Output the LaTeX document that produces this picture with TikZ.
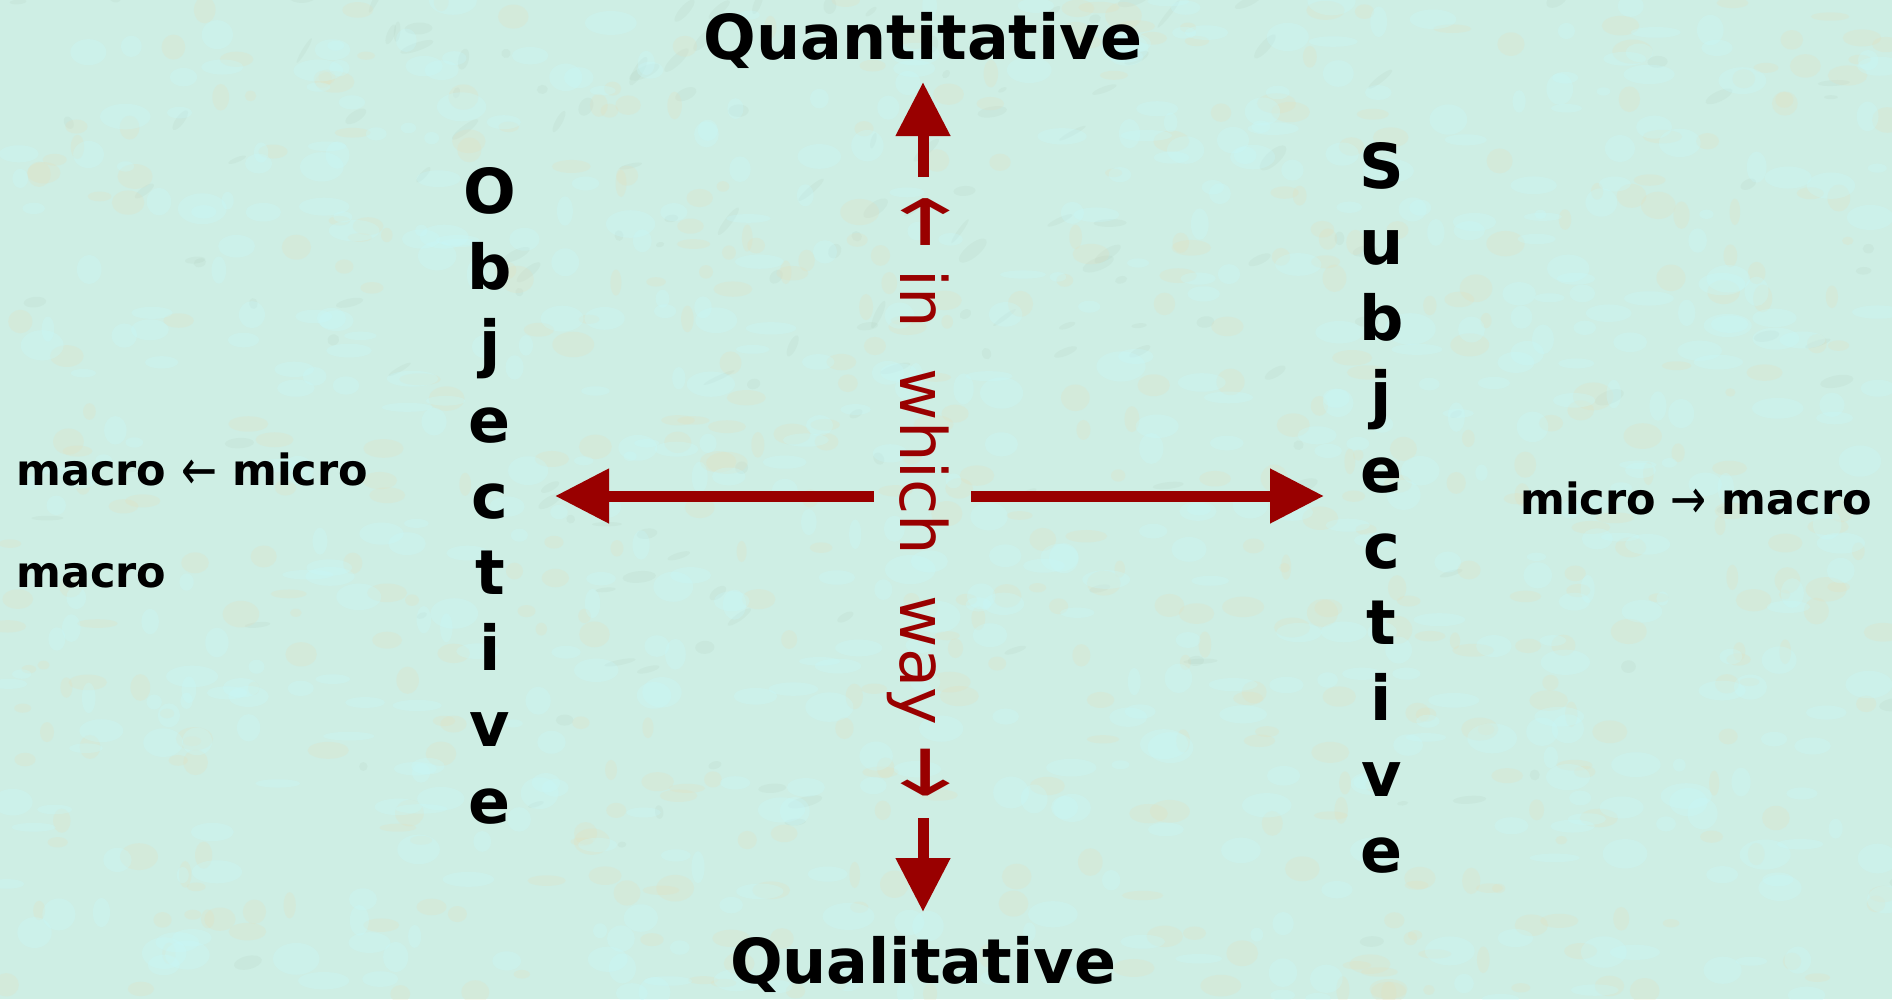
\documentclass[tikz,border=0pt]{standalone}
\usepackage{fontspec}
\usepackage{graphicx}
\setmainfont{DejaVu Sans}
\newfontfamily\arrfont{DejaVu Sans}
\usetikzlibrary{arrows.meta}
\definecolor{bgc}{RGB}{206,238,228}
\definecolor{texa}{RGB}{160,188,165}
\definecolor{texb}{RGB}{230,222,186}
\definecolor{texc}{RGB}{200,248,250}
\definecolor{darkred}{RGB}{153,0,0}
\newcommand\bigla{\raisebox{-11pt}{\scalebox{1}[1.8]{\arrfont ←}}}
\newcommand\bigra{\raisebox{-11pt}{\scalebox{1}[1.8]{\arrfont →}}}
\newcommand\smla{\raisebox{-4.5pt}{\scalebox{1}[1.3]{\arrfont\mdseries ←}}}
\newcommand\smra{\raisebox{-4.5pt}{\scalebox{1}[1.3]{\arrfont\mdseries →}}}
\begin{document}
\begin{tikzpicture}[x=1pt,y=-1pt,
  bigarrow/.style={draw=darkred, fill=darkred, line width=11pt, -{Triangle[width=52pt,length=54pt]}},
  biglabel/.style={font=\fontsize{62}{62}\selectfont\bfseries, inner sep=0pt, anchor=base},
  sidelabel/.style={font=\fontsize{43}{43}\selectfont\bfseries, inner sep=0pt, anchor=base west},
  waylabel/.style={font=\fontsize{64}{64}\selectfont, text=darkred, inner sep=0pt, anchor=base, rotate=-90}]
\fill[bgc] (0,0) rectangle (1892,999);
\useasboundingbox (0,0) rectangle (1892,999);

% background texture
\begin{scope}
\clip (0,0) rectangle (1892,999);
\pgfmathsetseed{11}
\foreach \n in {1,...,900}
  \fill[texa, opacity=0.10, rotate around={{rnd*180}:(0,0)}] ({rnd*1892},{rnd*999}) ellipse [x radius={4+rnd*14}, y radius={2+rnd*5}];
\foreach \n in {1,...,500}
  \fill[texb, opacity=0.22] ({rnd*1892},{rnd*999}) ellipse [x radius={5+rnd*16}, y radius={4+rnd*10}];
\foreach \n in {1,...,600}
  \fill[texc, opacity=0.30] ({rnd*1892},{rnd*999}) ellipse [x radius={6+rnd*20}, y radius={4+rnd*12}];
\end{scope}

% axis titles
\node[biglabel] (quant) at (923,59) {Quantitative};
\node[biglabel] (qual) at (923,983) {Qualitative};

\foreach \ch [count=\k from 0] in {O,b,j,e,c,t,i,v,e}
  \node[biglabel] (obj\k) at (490,213.5+\k*76.2) {\ch};
\foreach \ch [count=\k from 0] in {S,u,b,j,e,c,t,i,v,e}
  \node[biglabel] (subj\k) at (1381.5,188+\k*76.0) {\ch};

% side labels
\node[sidelabel] (mm1) at (16,485) {macro \smla{} micro};
\node[sidelabel] (mm2) at (16,587) {macro};
\node[sidelabel] (mm3) at (1520,514) {micro \smra{} macro};

% vertical text
\node[waylabel] (way) at (900,497.5) {\bigla{} in\ \ which\ \ way \bigra};

% arrows
\coordinate (upS) at (923,177);
\coordinate (upT) at (923,82);
\coordinate (dnS) at (923,818);
\coordinate (dnT) at (923,912);
\coordinate (lfS) at (874,496);
\coordinate (lfT) at (555,496);
\coordinate (rtS) at (971,496);
\coordinate (rtT) at (1324,496);
\draw[bigarrow] (upS) -- (upT);
\draw[bigarrow] (dnS) -- (dnT);
\draw[bigarrow] (lfS) -- (lfT);
\draw[bigarrow] (rtS) -- (rtT);
\end{tikzpicture}
\end{document}
